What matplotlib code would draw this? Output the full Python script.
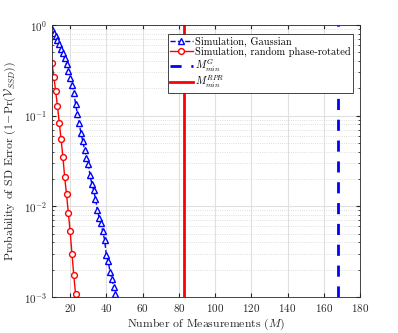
import matplotlib
matplotlib.use("Agg")
import matplotlib.pyplot as plt
import numpy as np

plt.rcParams.update(
    {
        "font.family": "serif",
        "font.serif": ["cmr10", "DejaVu Serif"],
        "mathtext.fontset": "cm",
        "axes.formatter.use_mathtext": True,
        "axes.unicode_minus": False,
    }
)

# Gaussian measurements
M_GAUSS = list(range(10, 46))
P_GAUSS = [
    0.90, 0.82, 0.75, 0.69, 0.62, 0.55, 0.49, 0.43, 0.37, 0.31,
    0.26, 0.22, 0.18, 0.135, 0.105, 0.082, 0.064, 0.052, 0.042, 0.034,
    0.029, 0.022, 0.0175, 0.0150, 0.0122, 0.0092, 0.0075, 0.0065, 0.0053, 0.0043,
    0.0029, 0.0025, 0.0019, 0.0016, 0.0013, 0.00107,
]

# random phase-rotated measurements
M_RPR = list(range(10, 24))
P_RPR = [
    0.377, 0.268, 0.187, 0.127, 0.084, 0.055, 0.0352,
    0.0209, 0.0136, 0.0085, 0.0053, 0.0030, 0.00176, 0.00107,
]

M_MIN_G = 168
M_MIN_RPR = 83

FS = 7.5

fig = plt.figure(figsize=(3.98, 3.33), dpi=100)
ax = fig.add_axes([0.1307, 0.108, 0.7738, 0.817])

ax.plot(M_GAUSS, P_GAUSS, color="blue", ls="--", lw=1.0, marker="^", ms=4.5,
        mfc="white", mec="blue", mew=1.0, label="Simulation, Gaussian")
ax.plot(M_RPR, P_RPR, color="red", ls="-", lw=1.0, marker="o", ms=4.2,
        mfc="white", mec="red", mew=1.0, label="Simulation, random phase-rotated")
ax.axvline(M_MIN_G, color="blue", ls=(0, (4, 3.5)), lw=2.0, label=r"$M^{G}_{min}$")
ax.axvline(M_MIN_RPR, color="red", ls="-", lw=2.0, label=r"$M^{RPR}_{min}$")

ax.set_yscale("log")
ax.set_xlim(10, 180)
ax.set_ylim(1e-3, 1)
ax.set_xticks(np.arange(20, 181, 20))

ax.grid(True, which="major", color="#e0e0e0", lw=0.8, ls="-")
ax.grid(True, which="minor", axis="y", color="#d4d4d4", lw=0.6, ls=":")
ax.set_axisbelow(True)

ax.tick_params(which="both", direction="in", top=True, right=True,
               labelsize=FS + 0.5, colors="#262626")
ax.tick_params(which="major", length=3)
ax.tick_params(which="minor", length=1.6)
for spine in ax.spines.values():
    spine.set_color("#262626")
    spine.set_linewidth(0.6)

ax.set_xlabel(r"Number of Measurements ($M$)", fontsize=FS + 1, color="#262626", labelpad=2)
ax.set_ylabel(r"Probability of SD Error $(1\!-\!\mathrm{Pr}(\mathcal{V}_{SSD}))$",
              fontsize=FS + 1, color="#262626", labelpad=4)

leg = ax.legend(loc="upper right", bbox_to_anchor=(0.986, 0.977), fontsize=FS,
                fancybox=False, framealpha=1, edgecolor="#262626",
                handlelength=2.2, handletextpad=0.2, borderpad=0.2,
                labelspacing=0.0, borderaxespad=0.3)
leg.get_frame().set_linewidth(0.6)

fig.savefig("out.png", dpi=100)
